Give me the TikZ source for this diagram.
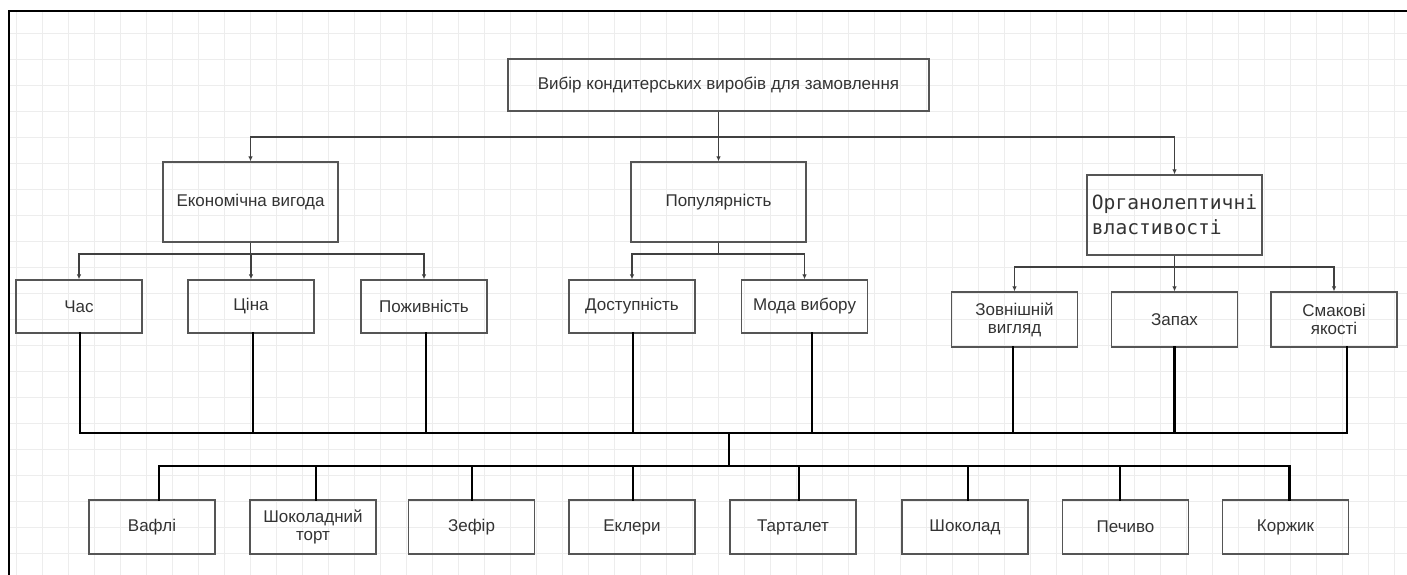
\documentclass[tikz,border=0pt]{standalone}
\usepackage{fontspec}
\setmainfont{Liberation Sans}
\newfontfamily\monofont{DejaVu Sans Mono}
\usetikzlibrary{arrows.meta,positioning}
\definecolor{boxgray}{HTML}{555555}
\definecolor{textgray}{HTML}{333333}
\tikzset{
  blk/.style={draw=boxgray, line width=1.3pt, align=center, text=textgray, font=\fontsize{17}{18}\selectfont, inner sep=2pt},
  goal/.style={blk, minimum width=421pt, minimum height=52pt},
  crit/.style={blk, minimum width=175pt, minimum height=80pt},
  subcrit/.style={blk, minimum width=126pt, minimum height=53pt},
  sweet/.style={blk, minimum width=126pt, minimum height=54pt},
  arr/.style={-{Latex[length=5pt,width=4.5pt]}, line width=1.2pt, draw=black!75},
  bus/.style={line width=2.5pt, black, line cap=rect},
  gridline/.style={black!7, line width=0.7pt},
  frame/.style={line width=2.5pt, black}
}

\begin{document}
\begin{tikzpicture}[x=1pt, y=-1pt]
\useasboundingbox (0,0) rectangle (1407,575);
% background grid
\foreach \gx in {16,42,...,1407} \draw[gridline] (\gx,11) -- (\gx,575);
\foreach \gy in {33,59,...,575} \draw[gridline] (9,\gy) -- (1407,\gy);
\draw[frame] (1407,11) -- (9,11) -- (9,575);

% goal and criteria
\node[goal] (goal) at (718.5,85) {Вибір кондитерських виробів для замовлення};
\node[crit] (econ) at (250.5,202) {Економічна вигода};
\node[crit] (popul) at (718.5,202) {Популярність};
\node[crit, align=left, font=\monofont\fontsize{19.6}{25}\selectfont] (organo) at (1174.5,215) {Органолептичні\\властивості};

% sub-criteria
\node[subcrit] (chas) at (79,306.5) {Час};
\node[subcrit] (cina) at (251,306.5) {Ціна};
\node[subcrit] (pozh) at (424,306.5) {Поживність};
\node[subcrit] (dost) at (632,306.5) {Доступність};
\node[subcrit] (moda) at (804.5,306.5) {Мода вибору};
\node[subcrit, minimum height=55pt] (vyglyad) at (1014.5,319.5) {Зовнішній\\вигляд};
\node[subcrit, minimum height=55pt] (zapah) at (1174.5,319.5) {Запах};
\node[subcrit, minimum height=55pt] (smak) at (1334,319.5) {Смакові\\якості};

% alternatives
\node[sweet] (vafli) at (152,527) {Вафлі};
\node[sweet] (tort) at (313,527) {Шоколадний\\торт};
\node[sweet] (zefir) at (471.5,527) {Зефір};
\node[sweet] (ekl) at (632,527) {Еклери};
\node[sweet] (tart) at (793,527) {Тарталет};
\node[sweet] (shok) at (965,527) {Шоколад};
\node[sweet] (pech) at (1125.5,527) {Печиво};
\node[sweet] (korzh) at (1285.5,527) {Коржик};

% hierarchy arrows
\coordinate (topj) at (718.5,137);
\coordinate (econj) at (250.5,254);
\coordinate (popj) at (718.5,254);
\coordinate (orgj) at (1174.5,267);
\foreach \n in {econ,popul,organo}
  \draw[arr] (goal.south) -- (topj) -| (\n.north);
\foreach \n in {chas,cina,pozh}
  \draw[arr] (econ.south) -- (econj) -| (\n.north);
\foreach \n in {dost,moda}
  \draw[arr] (popul.south) -- (popj) -| (\n.north);
\foreach \n in {vyglyad,zapah,smak}
  \draw[arr] (organo.south) -- (orgj) -| (\n.north);

% collecting bus to the alternatives
\coordinate (upbus) at (729,433);
\coordinate (lowbus) at (729,466);
\foreach \n/\dx in {chas/1,cina/2,pozh/2,dost/1,moda/7.5,vyglyad/-1.5,zapah/0,smak/13}
  \draw[bus] ([xshift=\dx pt]\n.south) -- ([xshift=\dx pt]\n.south |- upbus);
\draw[bus] ([xshift=1pt]chas.south |- upbus) -- ([xshift=13pt]smak.south |- upbus);
\draw[bus] (upbus) -- (lowbus);
\draw[bus] ([xshift=7pt]vafli.north |- lowbus) -- ([xshift=4pt]korzh.north |- lowbus);
\foreach \n/\dx in {vafli/7,tort/3,zefir/0.5,ekl/1,tart/6,shok/3,pech/-5.5,korzh/4}
  \draw[bus] ([xshift=\dx pt]\n.north |- lowbus) -- ([xshift=\dx pt]\n.north);
\end{tikzpicture}
\end{document}
